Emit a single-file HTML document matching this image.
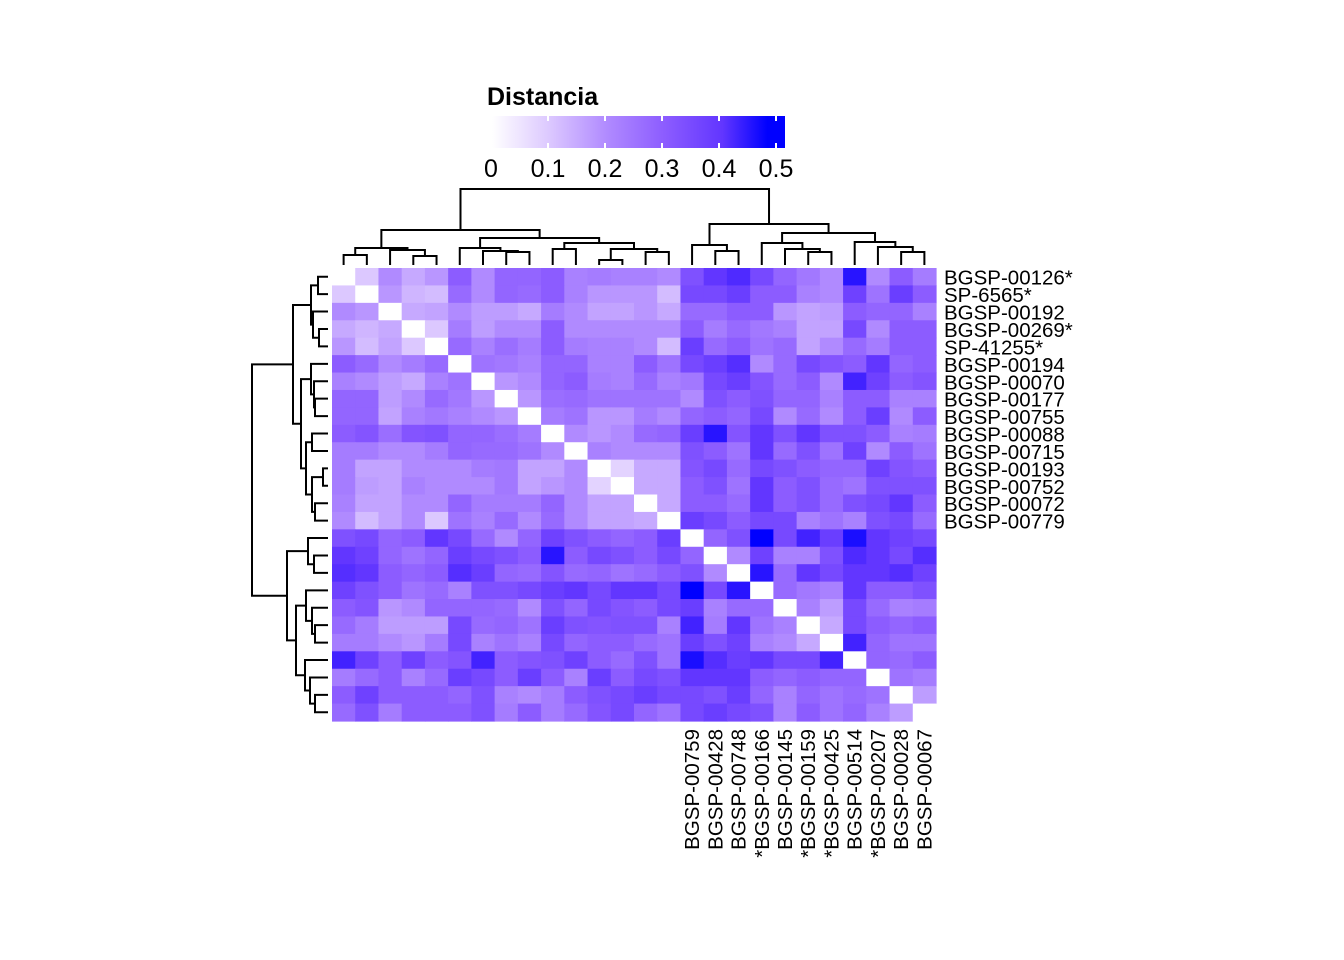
<!DOCTYPE html>
<html><head><meta charset="utf-8"><style>
html,body{margin:0;padding:0;background:#fff;}
svg{display:block;font-family:"Liberation Sans",sans-serif;}
</style></head><body>
<svg id="chart" width="1344" height="960" viewBox="0 0 1344 960" xmlns="http://www.w3.org/2000/svg">
<rect width="1344" height="960" fill="#fff"/>
<defs>
<linearGradient id="lg" x1="0" x2="1" y1="0" y2="0">
<stop offset="0" stop-color="#FFFFFF"/><stop offset="0.196" stop-color="#DCC8FF"/><stop offset="0.393" stop-color="#B08AFF"/><stop offset="0.589" stop-color="#8C5CFF"/><stop offset="0.786" stop-color="#6236FF"/><stop offset="0.94" stop-color="#0000FF"/><stop offset="1" stop-color="#0000FF"/>
</linearGradient>
</defs>
<g id="legend">
<text x="487" y="105" font-size="25" font-weight="bold">Distancia</text>
<rect x="492" y="116" width="293" height="32" fill="url(#lg)"/>
</g>
<g id="heat"></g>
<g id="dtop" stroke="#000" stroke-width="2" fill="none"></g>
<g id="dleft" stroke="#000" stroke-width="2" fill="none"></g>
<g id="labels"></g>
</svg>
<script>
const rowLabels = ["BGSP-00126*","SP-6565*","BGSP-00192","BGSP-00269*","SP-41255*","BGSP-00194","BGSP-00070","BGSP-00177","BGSP-00755","BGSP-00088","BGSP-00715","BGSP-00193","BGSP-00752","BGSP-00072","BGSP-00779"];
const colLabels = ["BGSP-00759","BGSP-00428","BGSP-00748","*BGSP-00166","BGSP-00145","*BGSP-00159","*BGSP-00425","BGSP-00514","*BGSP-00207","BGSP-00028","BGSP-00067"];
const legendTicks = [0,0.1,0.2,0.3,0.4,0.5];
const legendTickLabels = ["0","0.1","0.2","0.3","0.4","0.5"];
const matrix = [
[0,.1,.2,.15,.18,.3,.2,.28,.28,.3,.22,.23,.22,.22,.2,.33,.4,.43,.35,.28,.24,.2,.47,.2,.3,.23],
[.1,0,.18,.13,.12,.27,.2,.28,.27,.3,.22,.18,.18,.18,.12,.35,.35,.38,.3,.3,.22,.2,.37,.25,.38,.3],
[.2,.18,0,.15,.16,.2,.17,.17,.15,.23,.2,.16,.16,.18,.15,.27,.27,.3,.3,.18,.16,.17,.3,.28,.28,.22],
[.15,.13,.15,0,.1,.23,.17,.2,.2,.3,.2,.2,.2,.2,.2,.3,.23,.27,.24,.22,.16,.16,.35,.2,.3,.3],
[.18,.12,.16,.1,0,.27,.22,.26,.23,.3,.23,.22,.22,.2,.12,.38,.27,.3,.25,.27,.16,.2,.27,.23,.3,.3],
[.3,.27,.2,.23,.27,0,.25,.24,.22,.28,.28,.22,.22,.3,.25,.35,.38,.42,.2,.27,.35,.32,.3,.4,.28,.3],
[.22,.2,.17,.15,.22,.25,0,.18,.2,.28,.3,.23,.22,.27,.22,.24,.35,.38,.32,.27,.3,.2,.45,.37,.3,.32],
[.28,.28,.17,.2,.27,.24,.18,0,.18,.26,.27,.25,.25,.25,.25,.2,.33,.3,.33,.28,.28,.22,.3,.3,.22,.22],
[.28,.28,.16,.22,.24,.22,.2,.18,0,.23,.25,.18,.18,.23,.2,.28,.3,.28,.35,.2,.27,.2,.3,.38,.2,.3],
[.3,.32,.26,.32,.33,.28,.28,.26,.23,0,.2,.18,.2,.27,.28,.38,.47,.32,.4,.33,.4,.33,.33,.3,.22,.23],
[.23,.23,.2,.2,.23,.28,.27,.27,.25,.2,0,.22,.2,.2,.2,.33,.3,.25,.4,.27,.33,.25,.37,.2,.3,.25],
[.23,.16,.16,.2,.2,.2,.23,.24,.16,.16,.2,0,.08,.15,.15,.32,.35,.27,.35,.33,.3,.28,.28,.37,.32,.3],
[.23,.17,.16,.22,.2,.2,.2,.24,.16,.18,.2,.08,0,.15,.15,.3,.33,.25,.4,.3,.33,.27,.25,.33,.33,.33],
[.22,.16,.16,.2,.2,.28,.23,.23,.23,.28,.2,.16,.16,0,.15,.3,.3,.27,.4,.3,.33,.27,.33,.35,.4,.3],
[.2,.12,.16,.2,.1,.25,.22,.27,.2,.27,.2,.16,.16,.15,0,.38,.35,.3,.35,.35,.22,.25,.22,.33,.35,.27],
[.33,.35,.28,.3,.4,.35,.27,.2,.28,.37,.33,.3,.28,.3,.38,0,.28,.33,.5,.35,.45,.38,.48,.4,.37,.35],
[.4,.37,.28,.25,.28,.38,.35,.33,.3,.47,.3,.35,.33,.3,.35,.28,0,.2,.37,.22,.22,.33,.43,.4,.35,.42],
[.42,.4,.3,.28,.3,.42,.38,.28,.27,.32,.27,.28,.25,.27,.3,.33,.2,0,.47,.27,.4,.35,.4,.4,.42,.37],
[.37,.33,.3,.25,.27,.22,.33,.33,.35,.38,.4,.35,.4,.4,.35,.5,.35,.47,0,.27,.24,.22,.4,.3,.3,.33],
[.3,.32,.18,.2,.28,.28,.28,.27,.2,.33,.28,.35,.32,.3,.35,.38,.22,.27,.27,0,.22,.17,.35,.27,.22,.23],
[.27,.23,.17,.17,.17,.35,.27,.28,.25,.38,.33,.32,.33,.33,.22,.45,.23,.4,.25,.22,0,.15,.35,.3,.28,.3],
[.23,.23,.2,.18,.23,.35,.22,.25,.22,.35,.28,.3,.3,.27,.25,.38,.33,.37,.22,.2,.15,0,.45,.28,.25,.25],
[.45,.37,.3,.37,.3,.32,.45,.3,.32,.33,.37,.3,.27,.33,.25,.48,.42,.38,.4,.35,.35,.45,0,.28,.27,.3],
[.23,.27,.3,.22,.27,.38,.35,.3,.38,.3,.22,.38,.3,.35,.33,.4,.4,.4,.3,.28,.3,.28,.28,0,.25,.23],
[.3,.37,.3,.3,.3,.28,.33,.22,.2,.23,.3,.33,.35,.38,.35,.35,.33,.38,.28,.22,.28,.25,.27,.25,0,.17],
[.27,.33,.23,.3,.3,.3,.33,.23,.3,.23,.27,.32,.35,.28,.25,.35,.38,.35,.33,.22,.3,.25,.28,.22,.17,0]
];
// dendrogram merges (leaves 0..25, internal nodes 26+)
const mergeLeft  = [0,3,2,26,7,6,5,9,11,13,34,33,32,29,16,15,20,19,18,24,23,22,44,41,39];
const mergeRight = [1,4,27,28,8,30,31,10,12,14,35,36,37,38,17,40,21,42,43,25,45,46,47,48,49];
const mergeHeight= [10,9,15,17,13,14,17,16,5,13,16,22,27,35,14,20,13,16,22,13,18,23,32,41,76];
</script>
<script>
const NS="http://www.w3.org/2000/svg";
const X0=332,Y0=268,W=604,H=453,N=26;
const cw=W/N, ch=H/N;
const xc=i=>X0+cw*(i+0.5), yc=i=>Y0+ch*(i+0.5);
const stops=[[0,[255,255,255]],[0.1,[220,200,255]],[0.2,[176,138,255]],[0.3,[140,92,255]],[0.4,[98,54,255]],[0.45,[66,34,255]],[0.5,[0,0,255]]];
function color(v){
  v=Math.max(0,Math.min(0.5,v));
  for(let k=1;k<stops.length;k++){
    if(v<=stops[k][0]){const a=stops[k-1],b=stops[k],t=(v-a[0])/(b[0]-a[0]||1);
      return 'rgb('+a[1].map((c,i)=>Math.round(c+(b[1][i]-c)*t)).join(',')+')';}
  }
  return 'rgb(0,0,255)';
}
function mk(tag,attrs,parent){const e=document.createElementNS(NS,tag);for(const k in attrs)e.setAttribute(k,attrs[k]);parent.appendChild(e);return e;}

const heat=document.getElementById('heat');
for(let r=0;r<N;r++)for(let c=0;c<N;c++){
  const e=mk('rect',{x:(X0+c*cw).toFixed(2),y:(Y0+r*ch).toFixed(2),width:(cw+0.6).toFixed(2),height:(ch+0.6).toFixed(2),fill:color(matrix[r][c])},heat);
  
  
}

const legend=document.getElementById('legend');
const lx=v=>491+v*570;
legendTicks.forEach((v,i)=>{
  const t1=mk('line',{x1:lx(v),x2:lx(v),y1:116,y2:121,stroke:'#fff','stroke-width':2},legend);
  
  
  const t2=mk('line',{x1:lx(v),x2:lx(v),y1:143,y2:148,stroke:'#fff','stroke-width':2},legend);
  
  
  const tx=mk('text',{x:lx(v),y:177,'font-size':25,'text-anchor':'middle'},legend);
  tx.textContent=legendTickLabels[i];
  
  
});

function buildDendro(g,top){
  const pos=[],hgt=[];
  for(let i=0;i<N;i++){pos[i]=top?xc(i):yc(i);hgt[i]=0;}
  const base=top?265:328;
  const hp=h=>base-h;
  mergeLeft.forEach((a,k)=>{
    const b=mergeRight[k],h=mergeHeight[k],id=N+k;
    let d;
    if(top) d=`M${pos[a]},${hp(hgt[a])}V${hp(h)}H${pos[b]}V${hp(hgt[b])}`;
    else d=`M${hp(hgt[a])},${pos[a]}H${hp(h)}V${pos[b]}H${hp(hgt[b])}`;
    const p=mk('path',{d:d},g);
    
    
    pos[id]=(pos[a]+pos[b])/2;hgt[id]=h;
  });
}
buildDendro(document.getElementById('dtop'),true);
buildDendro(document.getElementById('dleft'),false);

const lab=document.getElementById('labels');
rowLabels.forEach((s,i)=>{
  const t=mk('text',{x:944,y:yc(i)+8,'font-size':20.5},lab);
  t.textContent=s;
  
  
});
colLabels.forEach((s,i)=>{
  const x=xc(N-colLabels.length+i)+7,y=729;
  const t=mk('text',{x:x,y:y,'font-size':20.5,'text-anchor':'end',transform:`rotate(-90 ${x} ${y})`},lab);
  t.textContent=s;
  
  
});
</script>
</body></html>
